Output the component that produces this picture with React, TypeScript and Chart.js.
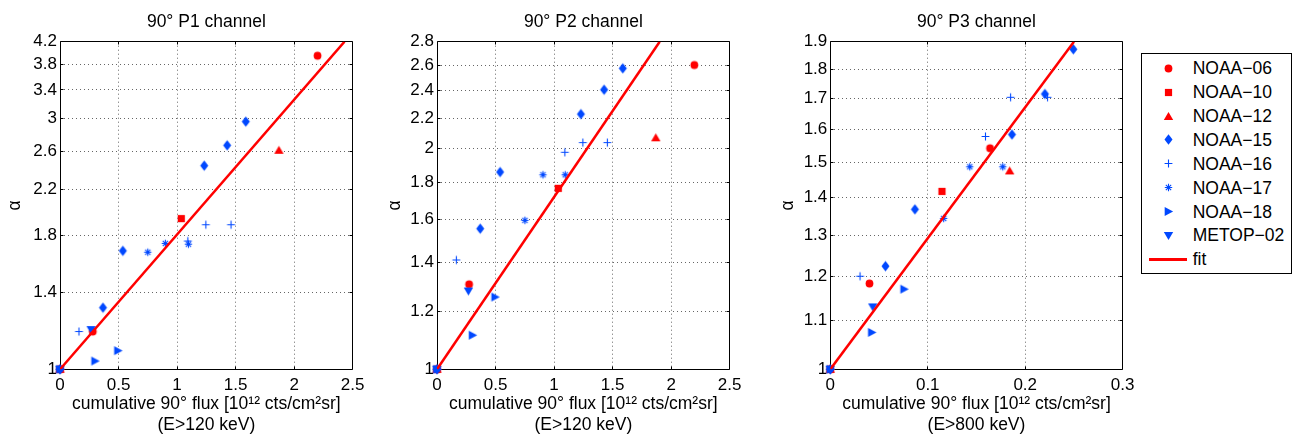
import React, { useEffect, useMemo, useRef } from 'react';
import { Chart, registerables } from 'chart.js';

Chart.register(...registerables);

type Pt = [number, number];

// ---------- data ----------
const SERIES_NAMES = ['NOAA−06', 'NOAA−10', 'NOAA−12', 'NOAA−15', 'NOAA−16', 'NOAA−17', 'NOAA−18', 'METOP−02'];

const X_TICKS_120 = [0, 0.5, 1, 1.5, 2, 2.5];
const X_TICKS_800 = [0, 0.1, 0.2, 0.3];
const Y_TICKS_P1 = [1, 1.4, 1.8, 2.2, 2.6, 3, 3.4, 3.8, 4.2];
const Y_TICKS_P2 = [1, 1.2, 1.4, 1.6, 1.8, 2, 2.2, 2.4, 2.6, 2.8];
const Y_TICKS_P3 = [1, 1.1, 1.2, 1.3, 1.4, 1.5, 1.6, 1.7, 1.8, 1.9];

// P1 channel
const p1Noaa06: Pt[] = [[0, 1], [0.28, 1.18], [2.2, 3.95]];
const p1Noaa10: Pt[] = [[0, 1], [1.036, 1.935]];
const p1Noaa12: Pt[] = [[0, 1], [1.87, 2.61]];
const p1Noaa15: Pt[] = [[0, 1], [0.367, 1.31], [0.537, 1.68], [1.232, 2.44], [1.428, 2.667], [1.587, 2.96]];
const p1Noaa16: Pt[] = [[0, 1], [0.162, 1.18], [1.092, 1.754], [1.246, 1.884], [1.461, 1.884]];
const p1Noaa17: Pt[] = [[0, 1], [0.75, 1.67], [0.9, 1.736], [1.097, 1.73]];
const p1Noaa18: Pt[] = [[0, 1], [0.3, 1.037], [0.495, 1.085]];
const p1Metop02: Pt[] = [[0, 1], [0.266, 1.19]];
const p1Fit: Pt[] = [[0, 1], [2.43, 4.2]];

// P2 channel
const p2Noaa06: Pt[] = [[0, 1], [0.274, 1.306], [2.198, 2.602]];
const p2Noaa10: Pt[] = [[0, 1], [1.036, 1.766]];
const p2Noaa12: Pt[] = [[0, 1], [1.869, 2.07]];
const p2Noaa15: Pt[] = [[0, 1], [0.369, 1.556], [0.539, 1.859], [1.229, 2.23], [1.427, 2.408], [1.587, 2.575]];
const p2Noaa16: Pt[] = [[0, 1], [0.165, 1.41], [1.092, 1.978], [1.246, 2.039], [1.455, 2.039]];
const p2Noaa17: Pt[] = [[0, 1], [0.751, 1.597], [0.905, 1.843], [1.095, 1.843]];
const p2Noaa18: Pt[] = [[0, 1], [0.304, 1.113], [0.497, 1.255]];
const p2Metop02: Pt[] = [[0, 1], [0.268, 1.279]];
const p2Fit: Pt[] = [[0, 1], [1.902, 2.8]];

// P3 channel
const p3Noaa06: Pt[] = [[0, 1], [0.0402, 1.183], [0.1639, 1.542]];
const p3Noaa10: Pt[] = [[0, 1], [0.1146, 1.417]];
const p3Noaa12: Pt[] = [[0, 1], [0.184, 1.475]];
const p3Noaa15: Pt[] = [[0, 1], [0.0566, 1.224], [0.0868, 1.368], [0.1864, 1.584], [0.2202, 1.715], [0.2494, 1.872]];
const p3Noaa16: Pt[] = [[0, 1], [0.0305, 1.2], [0.1592, 1.578], [0.185, 1.704], [0.2229, 1.704]];
const p3Noaa17: Pt[] = [[0, 1], [0.1163, 1.344], [0.1431, 1.487], [0.177, 1.487]];
const p3Noaa18: Pt[] = [[0, 1], [0.0426, 1.075], [0.0758, 1.17]];
const p3Metop02: Pt[] = [[0, 1], [0.0436, 1.13]];
const p3Fit: Pt[] = [[0, 1], [0.25, 1.9]];

// ---------- styles ----------
const FONT = "'Liberation Sans', Arial, Helvetica, sans-serif";
const RED = '#ff0000';
const BLUE = '#0048ff';
const SERIES_COLORS = [RED, RED, RED, BLUE, BLUE, BLUE, BLUE, BLUE];
const SERIES_MARKERS = ['circle', 'square', 'triUp', 'diamond', 'plus', 'star', 'triRight', 'triDown'];

const X_TITLE = 'cumulative 90° flux [10¹² cts/cm²sr]';

const PANELS = [
  {
    title: '90° P1 channel', energy: '(E>120 keV)',
    series: [p1Noaa06, p1Noaa10, p1Noaa12, p1Noaa15, p1Noaa16, p1Noaa17, p1Noaa18, p1Metop02],
    fit: p1Fit, xTicks: X_TICKS_120, yTicks: Y_TICKS_P1,
    left: 0, yAxisWidth: 60, padRight: 12, alphaPad: 4.5,
  },
  {
    title: '90° P2 channel', energy: '(E>120 keV)',
    series: [p2Noaa06, p2Noaa10, p2Noaa12, p2Noaa15, p2Noaa16, p2Noaa17, p2Noaa18, p2Metop02],
    fit: p2Fit, xTicks: X_TICKS_120, yTicks: Y_TICKS_P2,
    left: 377, yAxisWidth: 60, padRight: 11.7, alphaPad: 7.5,
  },
  {
    title: '90° P3 channel', energy: '(E>800 keV)',
    series: [p3Noaa06, p3Noaa10, p3Noaa12, p3Noaa15, p3Noaa16, p3Noaa17, p3Noaa18, p3Metop02],
    fit: p3Fit, xTicks: X_TICKS_800, yTicks: Y_TICKS_P3,
    left: 770, yAxisWidth: 60.3, padRight: 11.3, alphaPad: 7.3,
  },
];

const CANVAS_W = 370;
const CANVAS_H = 436;

function makeMarker(kind: string, color: string): HTMLCanvasElement {
  const s = 15;
  const c = document.createElement('canvas');
  c.width = s;
  c.height = s;
  const g = c.getContext('2d')!;
  const m = s / 2;
  g.fillStyle = color;
  g.strokeStyle = color;
  g.lineWidth = 1.1;
  g.beginPath();
  switch (kind) {
    case 'circle':
      g.arc(m, m, 3.9, 0, Math.PI * 2);
      g.fill();
      break;
    case 'square':
      g.rect(m - 3.6, m - 3.6, 7.2, 7.2);
      g.fill();
      break;
    case 'triUp':
      g.moveTo(m, m - 4.4);
      g.lineTo(m + 4.7, m + 3.6);
      g.lineTo(m - 4.7, m + 3.6);
      g.closePath();
      g.fill();
      break;
    case 'diamond':
      g.moveTo(m, m - 5.3);
      g.lineTo(m + 4, m);
      g.lineTo(m, m + 5.3);
      g.lineTo(m - 4, m);
      g.closePath();
      g.fill();
      break;
    case 'plus':
      g.moveTo(m - 3.9, m);
      g.lineTo(m + 3.9, m);
      g.moveTo(m, m - 3.9);
      g.lineTo(m, m + 3.9);
      g.stroke();
      break;
    case 'star': {
      const r = 3.7;
      const d = r * 0.72;
      g.moveTo(m - r, m);
      g.lineTo(m + r, m);
      g.moveTo(m, m - r);
      g.lineTo(m, m + r);
      g.moveTo(m - d, m - d);
      g.lineTo(m + d, m + d);
      g.moveTo(m - d, m + d);
      g.lineTo(m + d, m - d);
      g.stroke();
      break;
    }
    case 'triRight':
      g.moveTo(m - 3.8, m - 4.6);
      g.lineTo(m + 4.6, m);
      g.lineTo(m - 3.8, m + 4.6);
      g.closePath();
      g.fill();
      break;
    case 'triDown':
      g.moveTo(m - 4.7, m - 3.6);
      g.lineTo(m + 4.7, m - 3.6);
      g.lineTo(m, m + 4.4);
      g.closePath();
      g.fill();
      break;
  }
  return c;
}

function align(p: number) {
  return Math.round(p - 0.5) + 0.5;
}

const framePlugin = {
  id: 'matlabFrame',
  beforeDatasetsDraw(chart: any) {
    const { ctx, chartArea: a, scales } = chart;
    const L = align(a.left), R = align(a.right), T = align(a.top), B = align(a.bottom);
    ctx.save();
    ctx.strokeStyle = '#000';
    ctx.lineWidth = 1;
    ctx.setLineDash([]);
    ctx.beginPath();
    ctx.rect(L, T, R - L, B - T);
    const tl = 3;
    scales.x.ticks.forEach((t: any) => {
      const px = align(scales.x.getPixelForValue(t.value));
      if (Math.abs(px - L) < 1 || Math.abs(px - R) < 1) return;
      ctx.moveTo(px, B); ctx.lineTo(px, B - tl);
      ctx.moveTo(px, T); ctx.lineTo(px, T + tl);
    });
    scales.y.ticks.forEach((t: any) => {
      const py = align(scales.y.getPixelForValue(t.value));
      if (Math.abs(py - T) < 1 || Math.abs(py - B) < 1) return;
      ctx.moveTo(L, py); ctx.lineTo(L + tl, py);
      ctx.moveTo(R, py); ctx.lineTo(R - tl, py);
    });
    ctx.stroke();
    ctx.restore();
  },
};

function Panel({ p }: { p: typeof PANELS[number] }) {
  const ref = useRef<HTMLCanvasElement>(null);
  useEffect(() => {
    const markers = SERIES_MARKERS.map((m, i) => makeMarker(m, SERIES_COLORS[i]));
    const datasets: any[] = p.series.map((pts, i) => ({
      label: SERIES_NAMES[i],
      data: pts.map(([x, y]) => ({ x, y })),
      pointStyle: markers[i],
      pointRadius: 4,
      pointHoverRadius: 4,
      showLine: false,
      clip: false,
      order: 10 - i,
      backgroundColor: SERIES_COLORS[i],
      borderColor: SERIES_COLORS[i],
    }));
    datasets.push({
      label: 'fit',
      data: p.fit.map(([x, y]) => ({ x, y })),
      showLine: true,
      pointRadius: 0,
      pointHoverRadius: 0,
      borderColor: RED,
      backgroundColor: RED,
      borderWidth: 2.5,
      order: 0,
    });
    const tickFont = { family: FONT, size: 17, weight: 'normal' as const };
    const textFont = { family: FONT, size: 17.5, weight: 'normal' as const, lineHeight: 1.2 };
    const chart = new Chart(ref.current!, {
      type: 'scatter',
      data: { datasets },
      options: {
        animation: false,
        responsive: false,
        events: [],
        layout: { padding: { left: 0, right: p.padRight, top: 0, bottom: 0 } },
        plugins: {
          legend: { display: false },
          tooltip: { enabled: false },
          title: {
            display: true,
            text: p.title,
            fullSize: false,
            color: '#000',
            font: textFont,
            padding: { top: 11.6, bottom: 9.1 },
          },
        },
        scales: {
          x: {
            type: 'linear',
            min: p.xTicks[0],
            max: p.xTicks[p.xTicks.length - 1],
            afterBuildTicks: (s: any) => { s.ticks = p.xTicks.map((v) => ({ value: v })); },
            afterFit: (s: any) => { s.height = 66.7; },
            grid: { color: '#666', lineWidth: 1, drawTicks: false },
            border: { display: false, dash: [1, 3] },
            ticks: {
              color: '#000', font: tickFont, padding: 5.5, maxRotation: 0, autoSkip: false,
              callback: (v: any) => String(v),
            },
            title: {
              display: true, text: [X_TITLE, p.energy], color: '#000', font: textFont,
              padding: { top: 0, bottom: 0.5 },
            },
          },
          y: {
            type: 'logarithmic',
            min: p.yTicks[0],
            max: p.yTicks[p.yTicks.length - 1],
            afterBuildTicks: (s: any) => { s.ticks = p.yTicks.map((v) => ({ value: v })); },
            afterFit: (s: any) => { s.width = p.yAxisWidth; },
            grid: { color: '#666', lineWidth: 1, drawTicks: false },
            border: { display: false, dash: [1, 3] },
            ticks: {
              color: '#000', font: tickFont, padding: 3, autoSkip: false,
              callback: (v: any) => String(v),
            },
            title: {
              display: true, text: 'α', color: '#000', font: textFont,
              padding: { top: p.alphaPad, bottom: 0 },
            },
          },
        },
      } as any,
      plugins: [framePlugin],
    });
    return () => chart.destroy();
  }, [p]);
  return (
    <canvas
      ref={ref}
      width={CANVAS_W}
      height={CANVAS_H}
      style={{ position: 'absolute', left: p.left, top: 0, width: CANVAS_W, height: CANVAS_H }}
    />
  );
}

function Legend() {
  const imgs = useMemo(
    () => SERIES_MARKERS.map((m, i) => makeMarker(m, SERIES_COLORS[i]).toDataURL()),
    []
  );
  const rowY = (i: number) => 14.3 + i * 23.88;
  return (
    <div
      style={{
        position: 'absolute', left: 1141, top: 53, width: 151, height: 221,
        boxSizing: 'border-box', border: '1px solid #000', background: '#fff',
        fontFamily: FONT, fontSize: 17.5, color: '#000',
      }}
    >
      {SERIES_NAMES.map((n, i) => (
        <React.Fragment key={n}>
          <img
            src={imgs[i]}
            width={15}
            height={15}
            style={{ position: 'absolute', left: 18.5, top: rowY(i) - 7.5 }}
          />
          <div style={{ position: 'absolute', left: 50.7, top: rowY(i) - 12, height: 24, lineHeight: '24px', whiteSpace: 'nowrap' }}>
            {n}
          </div>
        </React.Fragment>
      ))}
      <div style={{ position: 'absolute', left: 7.3, top: rowY(8) - 1.25, width: 38, height: 2.5, background: RED }} />
      <div style={{ position: 'absolute', left: 50.7, top: rowY(8) - 12, height: 24, lineHeight: '24px' }}>fit</div>
    </div>
  );
}

export default function App() {
  return (
    <div style={{ position: 'absolute', left: 0, top: 0, width: 1298, height: 436, background: '#fff', overflow: 'hidden' }}>
      {PANELS.map((p) => (
        <Panel key={p.title} p={p} />
      ))}
      <Legend />
    </div>
  );
}
